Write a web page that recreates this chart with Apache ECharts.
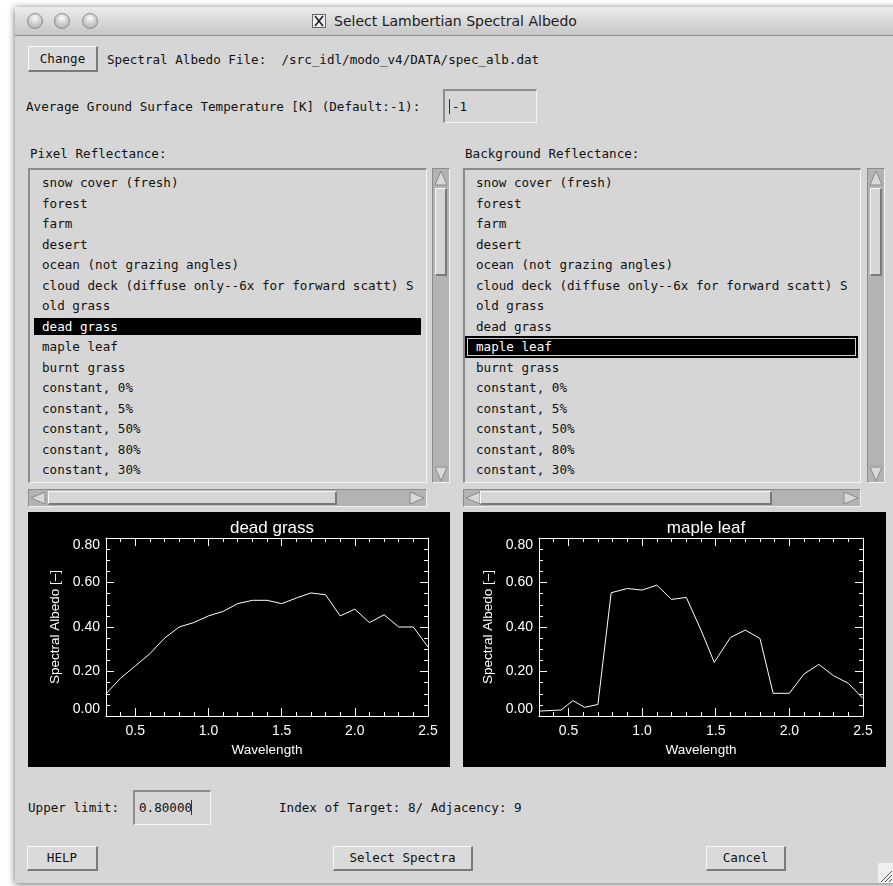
<!DOCTYPE html>
<html><head><meta charset="utf-8">
<script src="https://cdn.jsdelivr.net/npm/echarts@6/dist/echarts.min.js"></script>
<style>
html,body{margin:0;padding:0;background:#fff;width:893px;height:886px;overflow:hidden;}
body{position:relative;font-family:"DejaVu Sans Mono",monospace;font-size:12.6px;color:#111;}
.a{position:absolute;box-sizing:border-box;}
.t{position:absolute;white-space:pre;line-height:16px;height:16px;overflow:hidden;}
.btn{position:absolute;box-sizing:border-box;background:#dadada;border-style:solid;border-width:1px 2px 2px 1px;border-color:#f8f8f8 #7a7a7a #7a7a7a #f8f8f8;text-align:center;white-space:pre;}
.sunk{position:absolute;box-sizing:border-box;border-style:solid;border-width:2px 1px 1px 2px;border-color:#8c8c8c #f4f4f4 #f4f4f4 #8c8c8c;}
.trough{position:absolute;box-sizing:border-box;background:#b3b3b3;border-style:solid;border-width:1px;border-color:#8c8c8c #f0f0f0 #f0f0f0 #8c8c8c;}
.thumb{position:absolute;box-sizing:border-box;background:#d6d6d6;border-style:solid;border-width:1px 2px 2px 1px;border-color:#f8f8f8 #7a7a7a #7a7a7a #f8f8f8;}
</style>
</head>
<body>
<div id="ui"></div>
<div id="c1" class="a" style="left:28px;top:512px;width:422px;height:255px;"></div>
<div id="c2" class="a" style="left:463px;top:512px;width:423px;height:255px;"></div>
<script>
// ---------------- data ----------------
const listItems = ["snow cover (fresh)","forest","farm","desert","ocean (not grazing angles)",
  "cloud deck (diffuse only--6x for forward scatt) S","old grass","dead grass","maple leaf",
  "burnt grass","constant, 0%","constant, 5%","constant, 50%","constant, 80%","constant, 30%"];
const pixelIndex = 7;       // dead grass
const backgroundIndex = 8;  // maple leaf

const deadGrassWavelength = [0.3,0.4,0.5,0.6,0.7,0.8,0.9,1.0,1.1,1.2,1.3,1.4,1.5,1.6,1.7,1.8,1.9,2.0,2.1,2.2,2.3,2.4,2.5];
const deadGrassAlbedo     = [0.10,0.17,0.225,0.28,0.35,0.40,0.42,0.45,0.47,0.505,0.52,0.52,0.505,0.53,0.553,0.545,0.45,0.48,0.42,0.455,0.40,0.40,0.31];

const mapleLeafWavelength = [0.3,0.45,0.53,0.61,0.70,0.79,0.9,1.0,1.1,1.2,1.3,1.4,1.49,1.6,1.7,1.8,1.89,2.0,2.1,2.2,2.3,2.4,2.5];
const mapleLeafAlbedo     = [0.022,0.027,0.069,0.039,0.052,0.554,0.573,0.566,0.588,0.524,0.533,0.386,0.241,0.353,0.386,0.349,0.102,0.102,0.189,0.232,0.181,0.147,0.079];

const xMin = 0.3, xMax = 2.5;
const xMajorTicks = [0.5,1.0,1.5,2.0,2.5];
const xMinorTicks = [0.3,0.4,0.5,0.6,0.7,0.8,0.9,1.0,1.1,1.2,1.3,1.4,1.5,1.6,1.7,1.8,1.9,2.0,2.1,2.2,2.3,2.4,2.5];
const yMin = 0, yMax = 0.8, yStep = 0.2;

// ---------------- UI ----------------
const ui = document.getElementById('ui');
function el(cls, x, y, w, h, html, style){
  const d = document.createElement('div');
  d.className = cls;
  d.style.left = x+'px'; d.style.top = y+'px';
  if (w!=null) d.style.width = w+'px';
  if (h!=null) d.style.height = h+'px';
  if (html!=null) d.innerHTML = html;
  if (style) d.style.cssText += style;
  ui.appendChild(d);
  return d;
}
function text(x, cy, s, style){ const d = el('t', x, cy-8, null, null, null, style); d.textContent = s; return d; }
function button(x1,y1,x2,y2,label){ el('btn',x1,y1,x2-x1,y2-y1,null,'line-height:'+(y2-y1-3)+'px;').textContent = label; }

// window
el('a',15,7,900,876,null,'background:#d6d6d6;box-shadow:0 1px 7px rgba(0,0,0,0.6);');
el('a',15,7,900,29,null,'background:linear-gradient(#ececec,#c6c6c6);border-bottom:1px solid #8f8f8f;');
[35,62,90].forEach(cx=>el('a',cx-8,13,16,16,null,'border-radius:50%;border:1px solid #8d8d8d;background:radial-gradient(circle at 50% 30%,#fbfbfb 0%,#d2d2d2 45%,#a9a9a9 100%);'));
el('a',312,14,14,14,'<svg width="12" height="12" viewBox="0 0 12 12"><path d="M2 1 L10 11 M10 1 L2 11" stroke="#222" stroke-width="1.6"/></svg>','background:#f2f2f2;border:1px solid #666;padding:0;');
text(334,21,'Select Lambertian Spectral Albedo','font-family:"DejaVu Sans",sans-serif;font-size:14px;color:#1c1c1c;');

// top row
button(28,46,98,72,'Change');
text(107,60,'Spectral Albedo File:  /src_idl/modo_v4/DATA/spec_alb.dat');
text(26,107,'Average Ground Surface Temperature [K] (Default:-1):');
el('sunk',443,89,94,34);
el('a',449,99,1,15,null,'background:#333;');
text(452,107,'-1');

// lists
text(30,154,'Pixel Reflectance:');
text(465,154,'Background Reflectance:');
function arrow(x,y,w,h,dir){
  let pts;
  if (dir==='up') pts = `${w/2},1 ${w-1},${h-1} 1,${h-1}`;
  else if (dir==='down') pts = `1,1 ${w-1},1 ${w/2},${h-1}`;
  else if (dir==='left') pts = `1,${h/2} ${w-1},1 ${w-1},${h-1}`;
  else pts = `1,1 ${w-1},${h/2} 1,${h-1}`;
  el('a',x,y,w,h,`<svg width="${w}" height="${h}"><polygon points="${pts}" fill="#d8d8d8" stroke="#8a8a8a" stroke-width="1"/></svg>`);
}
function list(x1,x2,textX,sb1,sb2,selIdx,focus,selX1,selX2,hThumb1,hThumb2){
  el('sunk',x1,168,x2-x1,315,null,'background:#d6d6d6;');
  const clipW = (x2-9) - textX;
  listItems.forEach((s,i)=>{
    const cy = 183 + i*20.5;
    let st = 'width:'+clipW+'px;';
    if (i===selIdx){
      if (focus){
        el('a',selX1,cy-11,selX2-selX1,22,null,'background:#000;');
        el('a',selX1+2,cy-9,selX2-selX1-4,18,null,'border:1px solid #cfcfcf;');
      } else {
        el('a',selX1,cy-9,selX2-selX1,17,null,'background:#000;');
      }
      text(textX,cy,s,st+'color:#fff;');
    } else text(textX,cy,s,st);
  });
  // vertical scrollbar
  el('trough',sb1,168,sb2-sb1,315);
  arrow(sb1+2,170,sb2-sb1-4,16,'up');
  el('thumb',sb1+3,188,sb2-sb1-6,88);
  arrow(sb1+2,466,sb2-sb1-4,16,'down');
  // horizontal scrollbar
  el('trough',x1,489,x2-x1,18);
  arrow(x1+2,491,16,14,'left');
  el('thumb',hThumb1,491,hThumb2-hThumb1,14);
  arrow(x2-18,491,16,14,'right');
}
list(28,427,42,432,450,pixelIndex,false,34,421,48,337);
list(463,861,476,867,885,backgroundIndex,true,465,858,480,772);

// bottom
text(28,808,'Upper limit:');
el('sunk',133,790,78,35);
text(139,808,'0.80000');
el('a',191,800,1,15,null,'background:#333;');
text(279,808,'Index of Target: 8/ Adjacency: 9');
button(27,846,98,871,'HELP');
button(333,846,473,871,'Select Spectra');
button(706,846,786,871,'Cancel');
el('a',878,863,15,20,'<svg width="15" height="20"><path d="M3 19 L14 8 M7 19 L14 12 M11 19 L14 16" stroke="#555" stroke-width="1"/></svg>','background:#efefef;');

// ---------------- charts ----------------
const W = '#ffffff';
const FONT = '"Liberation Sans", Arial, sans-serif';
function makeOption(title, xs, ys, gl, gr, width){
  const data = xs.map((x,i)=>[x, ys[i]]);
  const lineW = {show:true, lineStyle:{color:W, width:1}};
  const noLine = {show:false};
  const xAx = (pos, ticks, len, showLine, withLabel) => ({
    type:'value', min:xMin, max:xMax, position:pos,
    axisLine: showLine ? lineW : noLine,
    splitLine:{show:false},
    axisTick:{show:true, inside:true, length:len, customValues:ticks, lineStyle:{color:W, width:1}},
    axisLabel: withLabel ? {show:true, customValues:xMajorTicks, formatter:v=>v.toFixed(1), color:W, fontFamily:FONT, fontSize:14, margin:8} : {show:false},
    name: withLabel ? 'Wavelength' : '', nameLocation:'middle', nameGap:25,
    nameTextStyle:{color:W, fontFamily:FONT, fontSize:13.5}
  });
  const yAx = (pos, withLabel) => ({
    type:'value', min:yMin, max:yMax, interval:yStep, position:pos,
    axisLine: lineW, splitLine:{show:false}, minorSplitLine:{show:false},
    axisTick:{show:true, inside:true, length:8, lineStyle:{color:W, width:1}},
    minorTick:{show:true, splitNumber:4, length:4, lineStyle:{color:W, width:1}},
    axisLabel: withLabel ? {show:true, formatter:v=>v.toFixed(2), color:W, fontFamily:FONT, fontSize:14, margin:6,
      verticalAlignMinLabel:'bottom', verticalAlignMaxLabel:'top'} : {show:false},
    name: withLabel ? 'Spectral Albedo [–]' : '', nameLocation:'middle', nameGap:41, nameRotate:90,
    nameTextStyle:{color:W, fontFamily:FONT, fontSize:13.5}
  });
  return {
    animation:false,
    backgroundColor:'#000',
    title:{text:title, left: gl + (width-gl-gr)/2, top:3, textAlign:'center',
      textStyle:{color:W, fontFamily:FONT, fontSize:17, fontWeight:'normal'}},
    grid:{left:gl, right:gr, top:26, bottom:51, containLabel:false},
    xAxis:[
      xAx('bottom', xMajorTicks, 8, true, true),
      xAx('bottom', xMinorTicks, 4, false, false),
      xAx('top', xMajorTicks, 8, true, false),
      xAx('top', xMinorTicks, 4, false, false)
    ],
    yAxis:[ yAx('left', true), yAx('right', false) ],
    series:[{type:'line', data:data, xAxisIndex:0, yAxisIndex:0, showSymbol:false, symbol:'none',
      lineStyle:{color:W, width:1}, silent:true}]
  };
}
const ch1 = echarts.init(document.getElementById('c1'), null, {renderer:'canvas'});
ch1.setOption(makeOption('dead grass', deadGrassWavelength, deadGrassAlbedo, 78, 22, 422));
const ch2 = echarts.init(document.getElementById('c2'), null, {renderer:'canvas'});
ch2.setOption(makeOption('maple leaf', mapleLeafWavelength, mapleLeafAlbedo, 76, 23, 423));
</script>
</body></html>
